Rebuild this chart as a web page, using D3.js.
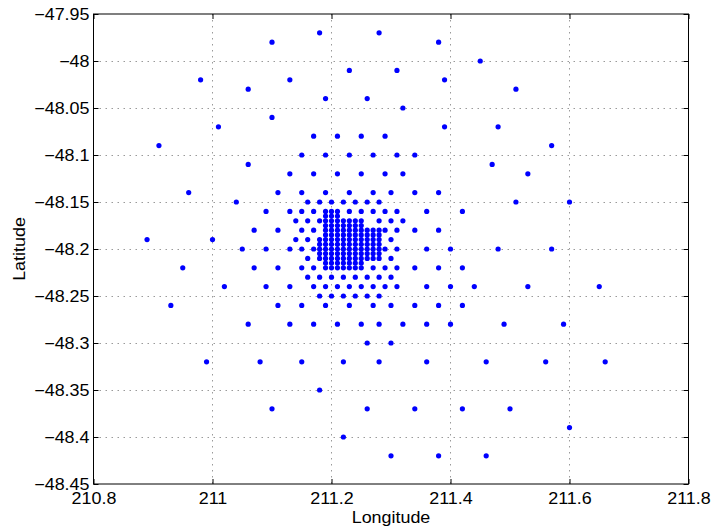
<!DOCTYPE html>
<html>
<head>
<meta charset="utf-8">
<script src="https://cdn.jsdelivr.net/npm/d3@7"></script>
<style>
  html, body { margin: 0; padding: 0; background: #fff; }
  svg { display: block; }
  text { font-family: "Liberation Sans", Arial, Helvetica, sans-serif; fill: #000; }
</style>
</head>
<body>
<svg id="chart" width="716" height="530"></svg>
<script>
// Latitude of each row of points, with the longitudes of the points in that row
const rowLat = [
  -47.97, -47.98, -48.00, -48.01, -48.02, -48.03, -48.04, -48.05, -48.06, -48.07,
  -48.08, -48.09, -48.10, -48.11, -48.12, -48.14, -48.15, -48.16, -48.165, -48.17,
  -48.175, -48.18, -48.185, -48.19, -48.195, -48.20, -48.205, -48.21, -48.215, -48.22,
  -48.23, -48.24, -48.25, -48.26, -48.28, -48.30, -48.32, -48.35, -48.37, -48.39,
  -48.40, -48.42
];
const rowLon = [
  [211.18, 211.28],
  [211.10, 211.38],
  [211.45],
  [211.23, 211.31],
  [210.98, 211.13, 211.39],
  [211.06, 211.51],
  [211.19, 211.26],
  [211.32],
  [211.10],
  [211.01, 211.39, 211.48],
  [211.17, 211.21, 211.25, 211.29],
  [210.91, 211.57],
  [211.15, 211.19, 211.23, 211.27, 211.31, 211.34],
  [211.06, 211.47],
  [211.13, 211.17, 211.21, 211.25, 211.29, 211.32, 211.53],
  [210.96, 211.11, 211.15, 211.19, 211.23, 211.27, 211.30, 211.34, 211.38],
  [211.04, 211.16, 211.18, 211.20, 211.22, 211.24, 211.26, 211.28, 211.51, 211.60],
  [211.09, 211.13, 211.15, 211.17, 211.19, 211.20, 211.21, 211.23, 211.25, 211.27, 211.29, 211.31, 211.36, 211.42],
  [211.19, 211.20, 211.21],
  [211.14, 211.16, 211.18, 211.19, 211.20, 211.21, 211.22, 211.23, 211.24, 211.25, 211.28, 211.30, 211.32],
  [211.19, 211.20, 211.21, 211.22, 211.23, 211.24, 211.25],
  [211.07, 211.11, 211.15, 211.17, 211.19, 211.20, 211.21, 211.22, 211.23, 211.24, 211.25, 211.26, 211.27, 211.28, 211.29, 211.31, 211.34, 211.38],
  [211.19, 211.20, 211.21, 211.22, 211.23, 211.24, 211.25, 211.26, 211.27, 211.28],
  [210.89, 211.00, 211.14, 211.16, 211.18, 211.19, 211.20, 211.21, 211.22, 211.23, 211.24, 211.25, 211.26, 211.27, 211.28, 211.30],
  [211.18, 211.19, 211.20, 211.21, 211.22, 211.23, 211.24, 211.25, 211.26, 211.27, 211.28],
  [211.05, 211.09, 211.13, 211.15, 211.17, 211.18, 211.19, 211.20, 211.21, 211.22, 211.23, 211.24, 211.25, 211.26, 211.27, 211.28, 211.29, 211.31, 211.36, 211.40, 211.48, 211.57],
  [211.18, 211.19, 211.20, 211.21, 211.22, 211.23, 211.24, 211.25, 211.26, 211.27, 211.28],
  [211.16, 211.18, 211.19, 211.20, 211.21, 211.22, 211.23, 211.24, 211.25, 211.26, 211.27, 211.28, 211.30],
  [211.19, 211.20, 211.21, 211.22, 211.23, 211.24, 211.25],
  [210.95, 211.07, 211.11, 211.15, 211.17, 211.19, 211.20, 211.21, 211.22, 211.23, 211.24, 211.25, 211.27, 211.29, 211.31, 211.34, 211.38, 211.42],
  [211.16, 211.18, 211.20, 211.22, 211.24, 211.26, 211.28, 211.30],
  [211.02, 211.09, 211.13, 211.17, 211.19, 211.21, 211.23, 211.25, 211.27, 211.29, 211.31, 211.36, 211.40, 211.44, 211.53, 211.65],
  [211.18, 211.20, 211.22, 211.24, 211.26, 211.28],
  [210.93, 211.11, 211.15, 211.19, 211.23, 211.27, 211.30, 211.34, 211.38, 211.42],
  [211.06, 211.13, 211.17, 211.21, 211.25, 211.28, 211.32, 211.36, 211.40, 211.49, 211.59],
  [211.26, 211.30],
  [210.99, 211.08, 211.15, 211.22, 211.28, 211.36, 211.46, 211.56, 211.66],
  [211.18],
  [211.10, 211.26, 211.34, 211.42, 211.50],
  [211.60],
  [211.22],
  [211.30, 211.38, 211.46]
];

const xTicks = [210.8, 211, 211.2, 211.4, 211.6, 211.8];
const yTicks = [-47.95, -48, -48.05, -48.1, -48.15, -48.2, -48.25, -48.3, -48.35, -48.4, -48.45];
const xDomain = [210.8, 211.8];
const yDomain = [-48.45, -47.95];
const xLabel = "Longitude";
const yLabel = "Latitude";

const points = [];
rowLat.forEach((lat, i) => rowLon[i].forEach(lon => points.push({ lon, lat })));

const L = 93.5, R = 688.5, T = 14, B = 484;
const FS = 16, SX = 1.12;
const svg = d3.select("#chart");
const x = d3.scaleLinear().domain(xDomain).range([L, R]);
const y = d3.scaleLinear().domain(yDomain).range([B, T]);

const fmt = d => String(+d.toFixed(2)).replace("-", "\u2212");

// grid
const grid = svg.append("g").attr("stroke", "#9a9a9a").attr("stroke-width", 1)
  .attr("stroke-dasharray", "1.5,4.5").attr("fill", "none");
xTicks.slice(1, -1).forEach(t => grid.append("line")
  .attr("x1", Math.round(x(t)) + 0.5).attr("x2", Math.round(x(t)) + 0.5)
  .attr("y1", T).attr("y2", B));
yTicks.slice(1, -1).forEach(t => grid.append("line")
  .attr("y1", Math.round(y(t)) + 0.5).attr("y2", Math.round(y(t)) + 0.5)
  .attr("x1", L).attr("x2", R));

// axes (ticks inside)
const tick = 5;
const axB = svg.append("g").attr("transform", `translate(0,${B})`)
  .call(d3.axisBottom(x).tickValues(xTicks).tickSize(-tick).tickFormat(fmt).tickPadding(9));
const axT = svg.append("g").attr("transform", `translate(0,${T})`)
  .call(d3.axisTop(x).tickValues(xTicks).tickSize(-tick).tickFormat(""));
const axL = svg.append("g").attr("transform", `translate(${L},0)`)
  .call(d3.axisLeft(y).tickValues(yTicks).tickSize(-tick).tickFormat(fmt).tickPadding(4));
const axR = svg.append("g").attr("transform", `translate(${R},0)`)
  .call(d3.axisRight(y).tickValues(yTicks).tickSize(-tick).tickFormat(""));
[axB, axT, axL, axR].forEach(a => {
  a.select(".domain").remove();
  a.selectAll("line").attr("stroke", "#000");
  a.selectAll("text").style("font-size", FS + "px")
    .style("font-family", "'Liberation Sans', Arial, sans-serif").attr("fill", "#000")
    .attr("transform", `scale(${SX},1)`);
});
axL.selectAll("text").attr("x", -4 / SX);

// box
svg.append("rect").attr("x", L).attr("y", T).attr("width", R - L).attr("height", B - T)
  .attr("fill", "none").attr("stroke", "#000").attr("stroke-width", 1);

// points
svg.append("g").selectAll("circle").data(points).join("circle")
  .attr("cx", d => x(d.lon)).attr("cy", d => y(d.lat)).attr("r", 2.6)
  .attr("fill", "#0000ff");

// labels
svg.append("text").attr("transform", `translate(${(L + R) / 2},523) scale(${SX},1)`)
  .attr("text-anchor", "middle").style("font-size", FS + "px").text(xLabel);
svg.append("text").attr("transform", `translate(25,${(T + B) / 2}) rotate(-90) scale(${SX},1)`)
  .attr("text-anchor", "middle").style("font-size", FS + "px").text(yLabel);
</script>
</body>
</html>
